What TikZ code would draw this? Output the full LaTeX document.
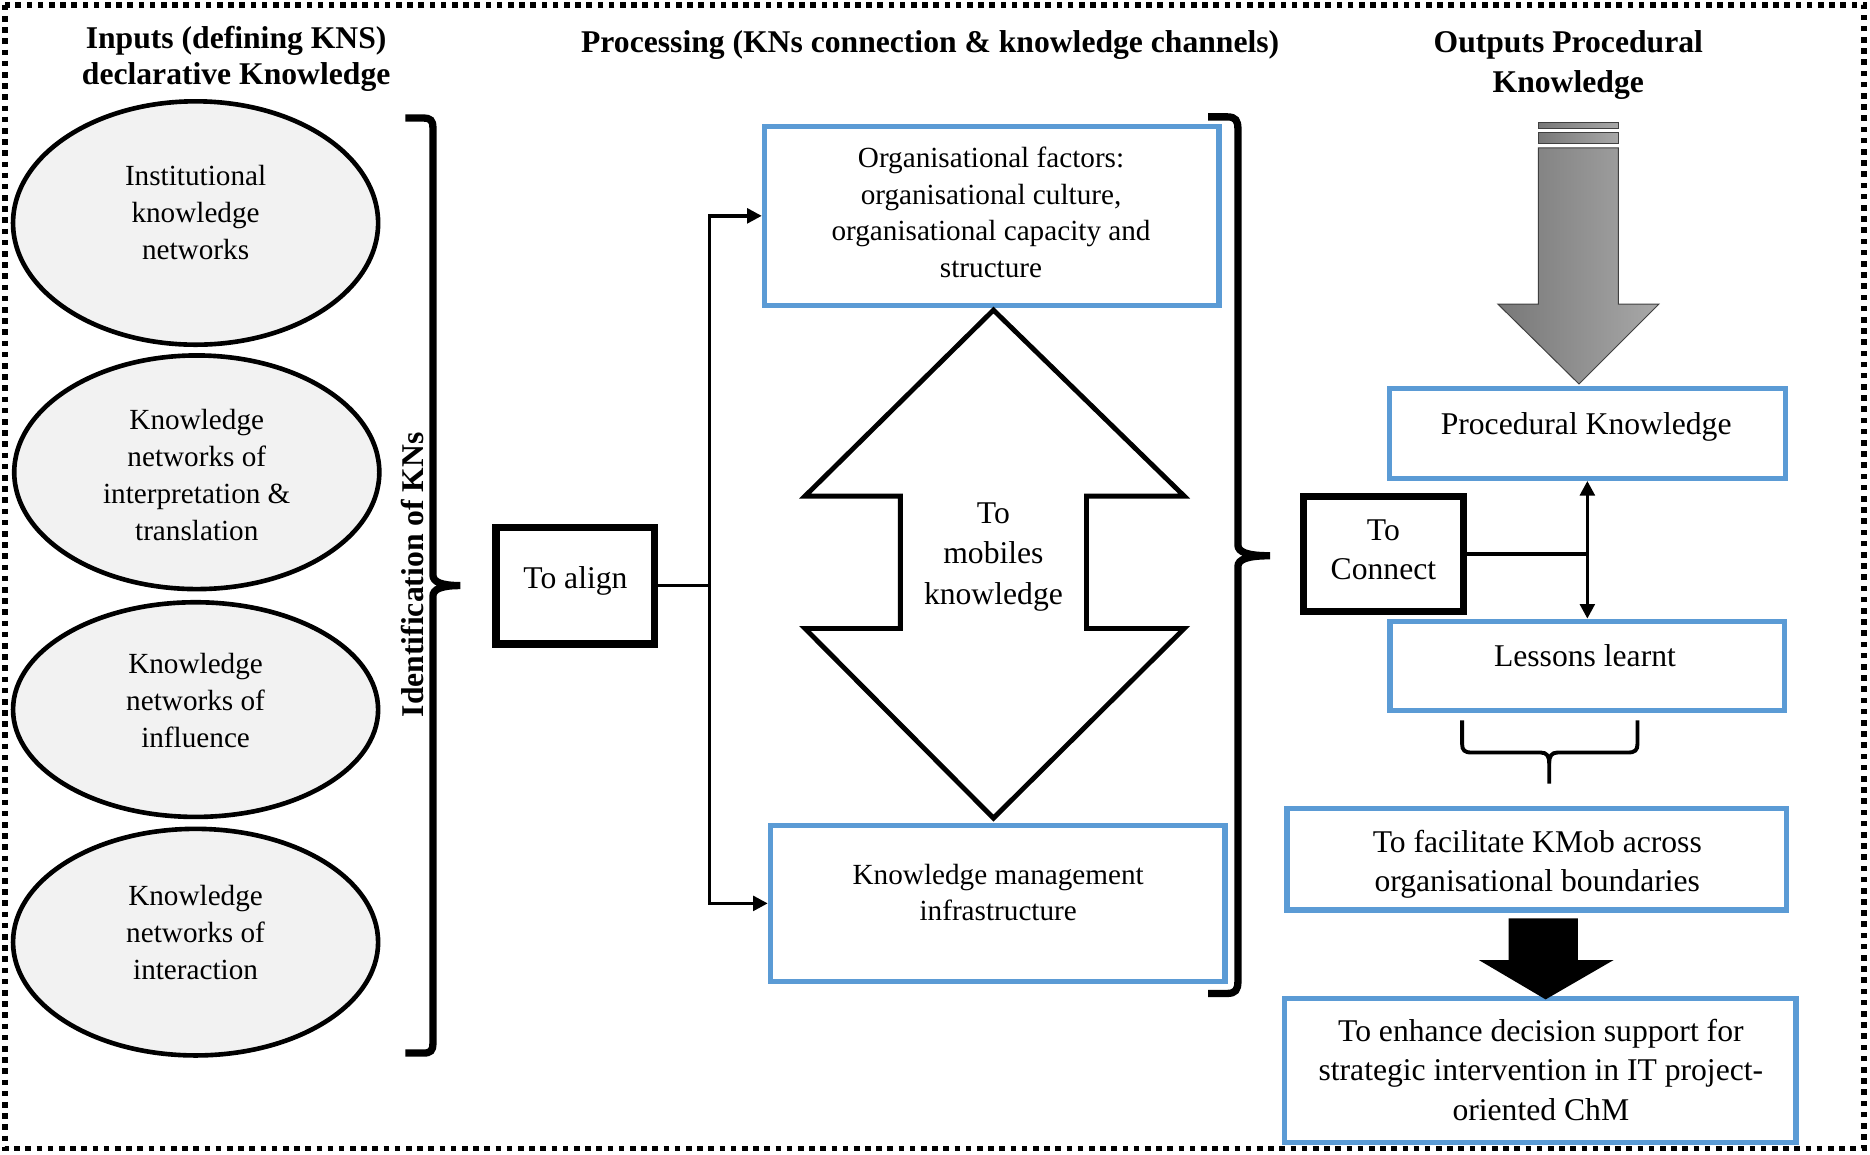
\documentclass[tikz,border=0pt]{standalone}
\usepackage{fontspec}
\setmainfont{Liberation Serif}
\usetikzlibrary{arrows.meta,shapes.geometric}
\definecolor{boxblue}{HTML}{5B9BD5}
\definecolor{ellgray}{HTML}{F2F2F2}
\definecolor{arrdark}{HTML}{787878}
\definecolor{arrlight}{HTML}{A8A8A8}
\begin{document}
\begin{tikzpicture}[x=0.49pt,y=-0.49pt,
  title/.style={font=\fontsize{13}{16}\selectfont\bfseries, align=center, inner sep=0pt},
  elltxt/.style={font=\fontsize{12}{15.2}\selectfont, align=center, inner sep=0pt},
  midtxt/.style={font=\fontsize{12}{15}\selectfont, align=center, inner sep=0pt},
  bigtxt/.style={font=\fontsize{13}{16.2}\selectfont, align=center, inner sep=0pt},
  kn/.style={ellipse, draw=black, line width=1.9pt, fill=ellgray, inner sep=0pt, minimum width=150pt},
  bluebox/.style={rectangle, draw=boxblue, line width=2.2pt, fill=white, inner sep=0pt},
  blackbox/.style={rectangle, draw=black, line width=3pt, fill=white, inner sep=0pt},
  brace/.style={line width=3pt, line cap=butt},
  conn/.style={line width=1.4pt},
  tip/.style={-{Triangle[length=6pt,width=6pt]}}
]
\useasboundingbox (0,0) rectangle (1568,968);
% outer dotted frame
\draw[line width=2.3pt, dash pattern=on 2.3pt off 2.3pt] (4,4) rectangle (1563,963);

% titles
\node[title] (t1a) at (198,34) {Inputs (defining KNS)};
\node[title] (t1b) at (198,65) {declarative Knowledge};
\node[title] (t2) at (780,38) {Processing (KNs connection \& knowledge channels)};
\node[title] (t3a) at (1315,38) {Outputs Procedural};
\node[title] (t3b) at (1315,71) {Knowledge};

% ellipses
\node[kn, minimum height=100pt] (e1) at (164,187) {};
\node[kn, minimum height=96pt] (e2) at (165,396) {};
\node[kn, minimum height=88.2pt] (e3) at (164,595) {};
\node[kn, minimum height=93.1pt] (e4) at (164,790) {};
\node[elltxt] (e1t) at (164,178) {Institutional\\knowledge\\networks};
\node[elltxt] (e2t) at (165,398) {Knowledge\\networks of\\interpretation \&\\translation};
\node[elltxt] (e3t) at (164,587) {Knowledge\\networks of\\influence};
\node[elltxt] (e4t) at (164,782) {Knowledge\\networks of\\interaction};

% left bracket
\draw[brace] (340,99) -- (355,99) .. controls (361,99) and (363,101) .. (363,107) -- (363,482)
  .. controls (363,488) and (370,491) .. (386,491) .. controls (370,491) and (363,494) .. (363,500)
  -- (363,875) .. controls (363,881) and (361,883) .. (355,883) -- (340,883);
\node[title, rotate=90] (ident) at (346,482) {Identification of KNs};

% to align
\node[blackbox, minimum width=65.2pt, minimum height=48pt] (align) at (482.5,491) {};
\node[bigtxt] (alignt) at (482.5,487) {To align};

% middle boxes
\node[bluebox, minimum width=186.7pt, minimum height=73.5pt] (org) at (831.5,181) {};
\node[midtxt] (orgt) at (831,178) {Organisational factors:\\organisational culture,\\organisational capacity and\\structure};
\node[bluebox, minimum width=186.7pt, minimum height=64.2pt] (km) at (836.5,757.5) {};
\node[midtxt] (kmt) at (837,748.5) {Knowledge management\\infrastructure};

% connectors from align
\coordinate (split) at (595,491);
\draw[conn] (align.east) -- (split);
\draw[conn,tip] (split) |- (org.west);
\draw[conn,tip] (split) |- (km.west);

% double block arrow
\draw[line width=2pt, line join=miter, fill=white] (833,260) -- (993,416) -- (911,416) -- (911,527) -- (993,527)
  -- (833,686) -- (675,527) -- (755,527) -- (755,416) -- (675,416) -- cycle;
\node[font=\fontsize{13}{16.8}\selectfont, align=center, inner sep=0pt] (mob) at (833,467) {To\\mobiles\\knowledge};

% right bracket
\draw[brace] (1013,98) -- (1029,98) .. controls (1036,98) and (1038,101) .. (1038,108) -- (1038,457)
  .. controls (1038,463) and (1046,466) .. (1065,466) .. controls (1046,466) and (1038,469) .. (1038,475)
  -- (1038,823) .. controls (1038,830) and (1036,833) .. (1029,833) -- (1013,833);

% grey arrow
\draw[draw=black!75, line width=0.4pt, left color=arrdark, right color=arrlight] (1290,103) rectangle (1357,108);
\draw[draw=black!75, line width=0.4pt, left color=arrdark, right color=arrlight] (1290,111) rectangle (1357,120);
\draw[draw=black!75, line width=0.4pt, left color=arrdark, right color=arrlight]
  (1290,124) -- (1357,124) -- (1357,255) -- (1391,255) -- (1324,322) -- (1256,255) -- (1290,255) -- cycle;

% right column boxes
\node[bluebox, minimum width=162.7pt, minimum height=36.75pt] (proc) at (1331,363.5) {};
\node[bigtxt] (proct) at (1330,358) {Procedural Knowledge};
\node[blackbox, minimum width=65.7pt, minimum height=47.5pt] (connect) at (1160,464.5) {};
\node[bigtxt] (connectt) at (1160,461) {To\\Connect};
\node[bluebox, minimum width=162.2pt, minimum height=36.75pt] (lessons) at (1331,558.5) {};
\node[bigtxt] (lessonst) at (1329,550) {Lessons learnt};
\node[bluebox, minimum width=205.3pt, minimum height=41.65pt] (facil) at (1288.5,720.5) {};
\node[bigtxt] (facilt) at (1289,724.5) {To facilitate KMob across\\organisational boundaries};
\node[bluebox, minimum width=210.2pt, minimum height=59.3pt] (enh) at (1291.5,897.5) {};
\node[bigtxt] (enht) at (1292,897) {To enhance decision support for\\strategic intervention in IT project-\\oriented ChM};

% connect links
\coordinate (cj) at (proc.south |- connect.east);
\draw[conn] (connect.east) -- (cj);
\draw[conn,{Triangle[length=6pt,width=6pt]}-{Triangle[length=6pt,width=6pt]}] (proc.south) -- (proc.south |- lessons.north);

% small brace under lessons
\draw[line width=1.6pt] (1226,604) -- (1226,624) .. controls (1226,629) and (1228,631) .. (1234,631) -- (1292,631)
  .. controls (1297,631) and (1299,634) .. (1299,640) -- (1299,657);
\draw[line width=1.6pt] (1373,604) -- (1373,624) .. controls (1373,629) and (1371,631) .. (1365,631) -- (1306,631)
  .. controls (1301,631) and (1299,634) .. (1299,640);

% black arrow
\fill[black] (1265,770) -- (1323,770) -- (1323,805) -- (1353,805) -- (1296,838) -- (1240,805) -- (1265,805) -- cycle;
\end{tikzpicture}
\end{document}
